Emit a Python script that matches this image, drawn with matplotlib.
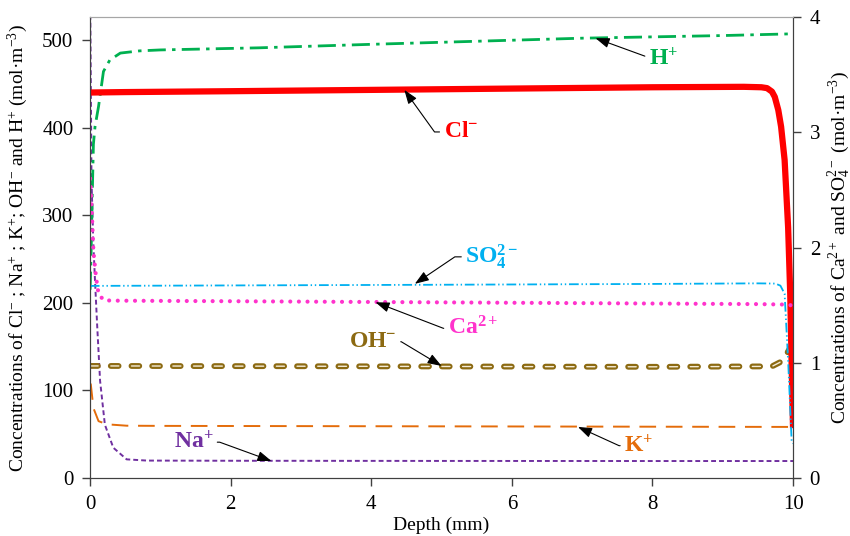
import matplotlib
matplotlib.use("Agg")
import matplotlib.pyplot as plt

# Depth profiles (depth in mm)
# left axis: Cl-, Na+, K+, OH-, H+ ; right axis: Ca2+, SO4 2-

cl_x = [0, 0.5, 2, 4, 6, 8, 9.3, 9.55, 9.63, 9.7, 9.74, 9.79, 9.83, 9.88, 9.93, 9.96, 9.985, 10]
cl_y = [440, 440.5, 441.5, 443, 444.5, 446, 446.5, 446, 445, 441, 435, 420, 401, 363, 286, 210, 110, 57]

h_x = [0, 0.015, 0.03, 0.047, 0.07, 0.12, 0.19, 0.28, 0.43, 0.7, 1.0, 2.4, 4, 7, 9, 10]
h_y = [215, 260, 320, 381, 401, 424, 464, 477, 485, 487.5, 488.6, 491, 495, 502, 505, 507]

oh_x = [0, 0.1, 2, 5, 8, 9.7, 9.81, 9.88, 9.95, 10]
oh_y = [128, 128, 127.8, 127.4, 127, 127.5, 132, 137.6, 147.5, 152]

k_x = [0, 0.01, 0.047, 0.12, 0.24, 0.52, 1, 4, 7, 10]
k_y = [108, 107, 80, 65, 61.4, 59.8, 59.6, 59.2, 58.8, 58.4]

na_x = [0, 0.01, 0.02, 0.045, 0.07, 0.1, 0.142, 0.21, 0.33, 0.52, 0.81, 2, 5, 8, 10]
na_y = [560, 450, 340, 270, 225, 175, 111, 61, 34.7, 21.4, 20, 19.8, 19.6, 19.5, 19.5]

so4_x = [0, 0.02, 2, 5, 8, 9.5, 9.75, 9.82, 9.88, 9.93, 9.98, 10]
so4_y = [1.66, 1.668, 1.672, 1.678, 1.685, 1.69, 1.688, 1.67, 1.6, 1.02, 0.32, 0.3]

ca_x = [0, 0.01, 0.047, 0.085, 0.12, 0.19, 0.3, 2, 5, 8, 9.5, 9.9, 9.97]
ca_y = [2.6, 2.53, 1.97, 1.74, 1.6, 1.545, 1.54, 1.535, 1.525, 1.515, 1.51, 1.506, 1.5]

x_ticks = [0, 2, 4, 6, 8, 10]
left_ticks = [0, 100, 200, 300, 400, 500]
right_ticks = [0, 1, 2, 3, 4]

# colours
RED = '#ff0000'
GREEN = '#00b050'
CYAN = '#00b0f0'
PINK = '#ff33cc'
BROWN = '#8c6a12'
ORANGE = '#e46c0a'
PURPLE = '#7030a0'


def main():
    plt.rcParams['font.family'] = ['Liberation Serif', 'DejaVu Serif']
    plt.rcParams['mathtext.fontset'] = 'custom'
    plt.rcParams['mathtext.rm'] = 'Liberation Serif'
    plt.rcParams['mathtext.it'] = 'Liberation Serif:italic'
    plt.rcParams['mathtext.bf'] = 'Liberation Serif:bold'
    plt.rcParams['lines.scale_dashes'] = False

    fig = plt.figure(figsize=(8.5, 5.36), dpi=100)
    ax = fig.add_axes([0.106, 0.108, 0.827, 0.860])
    ax2 = ax.twinx()

    # left axis curves
    ax.plot(k_x, k_y, color=ORANGE, lw=1.4, dashes=(12, 7))
    ax.plot(na_x, na_y, color=PURPLE, lw=1.4, dashes=(3.5, 2.2))
    ax.plot(oh_x, oh_y, color=BROWN, lw=4.2, dashes=(5.6, 9.3),
            dash_capstyle='round')
    ax.plot(oh_x, oh_y, color='#f4ecd8', lw=1.0, dashes=(5.8, 9.1),
            dash_capstyle='round')
    ax.plot(h_x, h_y, color=GREEN, lw=2.0, dashes=(13, 4.5, 2.5, 4.5))
    ax.plot(cl_x, cl_y, color=RED, lw=4.5, solid_capstyle='butt')

    # right axis curves
    ax2.plot(so4_x, so4_y, color=CYAN, lw=1.3, dashes=(7, 2, 1, 2, 1, 2))
    ax2.plot(ca_x, ca_y, color=PINK, lw=3.0, dashes=(0.01, 6.2),
             dash_capstyle='round')

    ax.set_xlim(0, 10)
    ax.set_ylim(0, 526)
    ax2.set_ylim(0, 4)
    ax.set_xticks(x_ticks)
    ax.set_yticks(left_ticks)
    ax2.set_yticks(right_ticks)

    ax.tick_params(labelsize=15, length=6, width=1, color='#404040', pad=6)
    ax2.tick_params(labelsize=15, length=6, width=1, color='#404040', pad=6)
    for a in (ax, ax2):
        for s in ('left', 'right', 'bottom'):
            a.spines[s].set_color('#404040')
        a.spines['top'].set_color('#a6a6a6')

    ax.set_xlabel("Depth (mm)", fontsize=14, labelpad=2)
    ax.set_ylabel("Concentrations of Cl$^{-}$ ; Na$^{+}$ ; K$^{+}$; OH$^{-}$ and H$^{+}$ (mol·m$^{-3}$)",
                  fontsize=14, labelpad=9)
    ax2.set_ylabel("Concentrations of Ca$^{2+}$ and SO$_4^{2-}$ (mol·m$^{-3}$)",
                   fontsize=14, labelpad=4)

    # labels with arrows
    def label(a, txt, col, xytext, xy, side, angb, ha):
        rel = (0, 0.5) if side == 'left' else (1, 0.5)
        a.annotate(txt, xy=xy, xytext=xytext, color=col, fontsize=17,
                   fontweight='bold', ha=ha, va='center',
                   arrowprops=dict(arrowstyle='-|>,head_length=0.5,head_width=0.18',
                                   color='black', lw=0.8, relpos=rel,
                                   shrinkA=1, shrinkB=0,
                                   connectionstyle='angle,angleA=0,angleB=%g,rad=0' % angb))

    label(ax, "H$^{\\mathbf{+}}$", GREEN, (7.95, 478), (7.19, 502), 'left', -20, 'left')
    label(ax, "Cl$^{\\mathbf{-}}$", RED, (5.03, 395), (4.47, 443), 'left', 125.7, 'left')
    label(ax, "Na$^{\\mathbf{+}}$", PURPLE, (1.75, 41), (2.58, 19.5), 'right', -20, 'right')
    label(ax, "K$^{\\mathbf{+}}$", ORANGE, (7.6, 37), (6.94, 58.4), 'left', -24.5, 'left')
    label(ax, "OH$^{\\mathbf{-}}$", BROWN, (4.36, 155.6), (5.0, 128), 'right', -31, 'right')
    label(ax2, "SO$_\\mathbf{4}^\\mathbf{2-}$", CYAN, (5.34, 1.92), (4.62, 1.686), 'left', 34, 'left')
    label(ax2, "Ca$^{\\mathbf{2+}}$", PINK, (5.09, 1.30), (4.06, 1.526), 'left', 159, 'left')

    plt.savefig("out.png", dpi=100)


if __name__ == "__main__":
    main()
